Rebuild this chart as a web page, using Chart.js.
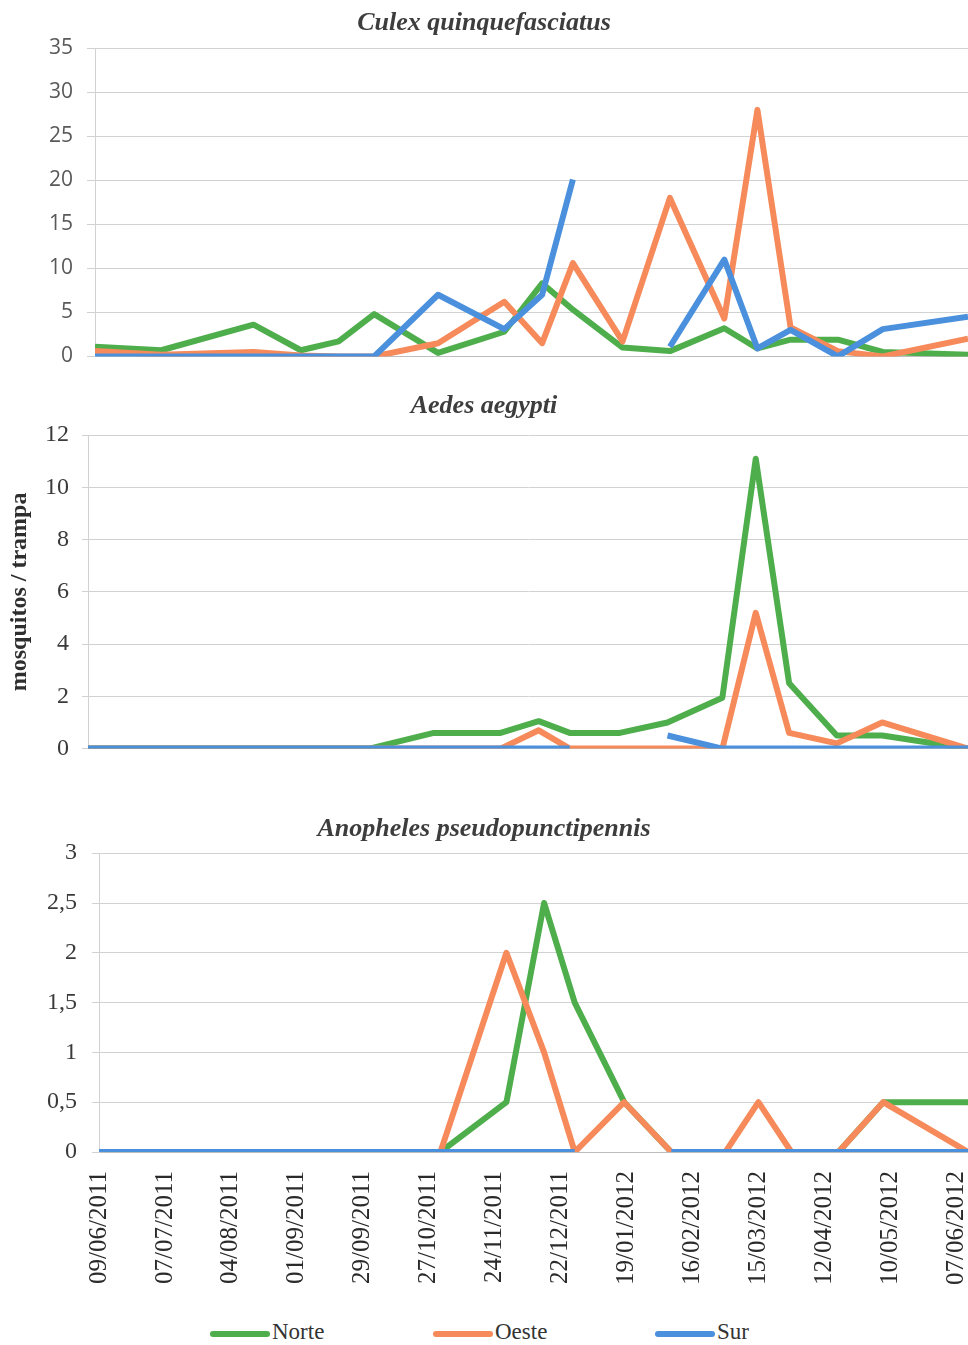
<!DOCTYPE html>
<html>
<head>
<meta charset="utf-8">
<script src="https://cdn.jsdelivr.net/npm/chart.js@4.4.1/dist/chart.umd.min.js"></script>
<style>
body { margin: 0; background: #fff; width: 968px; height: 1345px; position: relative; overflow: hidden; }
canvas { position: absolute; left: 0; }
.ley { position: absolute; top: 1317px; height: 30px; font: 23px 'Liberation Serif', serif; color: #333; line-height: 30px; white-space: nowrap; }
.ley i { display: inline-block; width: 60px; height: 6px; vertical-align: middle; margin-right: 2px; border-radius: 3px; }
</style>
</head>
<body>
<canvas id="culex" width="968" height="383" style="top:0px"></canvas>
<canvas id="aedes" width="968" height="401" style="top:375px"></canvas>
<canvas id="anopheles" width="968" height="510" style="top:795px"></canvas>
<div id="leyenda"></div>
<script>
// fechas de muestreo
const fechas = ['09/06/2011', '07/07/2011', '15/08/2011', '04/09/2011', '20/09/2011', '05/10/2011',
    '01/11/2011', '29/11/2011', '15/12/2011', '28/12/2011', '18/01/2012', '07/02/2012',
    '01/03/2012', '15/03/2012', '29/03/2012', '18/04/2012', '07/05/2012', '12/06/2012'];

const etiquetasX = ['09/06/2011', '07/07/2011', '04/08/2011', '01/09/2011', '29/09/2011', '27/10/2011',
    '24/11/2011', '22/12/2011', '19/01/2012', '16/02/2012', '15/03/2012', '12/04/2012',
    '10/05/2012', '07/06/2012'];

// Culex quinquefasciatus
const culexNorte = [1.1, 0.7, 3.6, 0.7, 1.7, 4.8, 0.4, 2.8, 8.3, 5.3, 1.0, 0.6, 3.2, 0.9, 1.9, 1.9, 0.5, 0.2];
const culexOeste = [0.6, 0.2, 0.5, 0.1, 0, 0, 1.5, 6.2, 1.5, 10.6, 1.7, 18.0, 4.3, 28.0, 3.3, 0.6, 0, 2.0];
const culexSur = [0, 0, 0, 0, 0, 0, 7.0, 3.1, 7.0, 20.1, null, 1.1, 11.0, 0.9, 3.0, 0, 3.1, 4.5];

// Aedes aegypti
const aedesNorte = [0, 0, 0, 0, 0, 0, 0.6, 0.6, 1.05, 0.6, 0.6, 1.0, 1.95, 11.1, 2.5, 0.5, 0.5, 0];
const aedesOeste = [0, 0, 0, 0, 0, 0, 0, 0, 0.7, 0, 0, 0, 0, 5.2, 0.6, 0.2, 1.0, 0];
const aedesSur = [0, 0, 0, 0, 0, 0, 0, 0, 0, 0, null, 0.5, 0, 0, 0, 0, 0, 0];

// Anopheles pseudopunctipennis
const anophelesNorte = [0, 0, 0, 0, 0, 0, 0, 0.5, 2.5, 1.5, 0.5, 0, 0, 0, 0, 0, 0.5, 0.5];
const anophelesOeste = [0, 0, 0, 0, 0, 0, 0, 2.0, 1.0, 0, 0.5, 0, 0, 0.5, 0, 0, 0.5, 0];
const anophelesSur = [0, 0, 0, 0, 0, 0, 0, 0, 0, 0, null, 0, 0, 0, 0, 0, 0, 0];

const nombres = ['Norte', 'Oeste', 'Sur'];
const colores = ['#4fae4c', '#f68a5a', '#4a90dc'];

const diaCero = Date.UTC(2011, 5, 9);
function aDia(f) {
    const [d, m, a] = f.split('/').map(Number);
    return Math.round((Date.UTC(a, m - 1, d) - diaCero) / 86400000);
}
const dias = fechas.map(aDia);
const ticksX = etiquetasX.map(aDia);

function serie(i, valores) {
    return {
        label: nombres[i],
        data: valores.map((v, k) => ({ x: dias[k], y: v })),
        borderColor: colores[i],
        backgroundColor: colores[i],
        borderWidth: 6,
        borderJoinStyle: 'round',
        pointRadius: 0,
        tension: 0,
        spanGaps: false,
        order: 3 - i
    };
}

function crearGrafico(id, titulo, valores, cfg) {
    const ctx = document.getElementById(id).getContext('2d');
    return new Chart(ctx, {
        type: 'line',
        data: { datasets: valores.map((v, i) => serie(i, v)) },
        options: {
            responsive: false,
            animation: false,
            layout: { padding: 0 },
            plugins: {
                legend: { display: false },
                tooltip: { enabled: false },
                title: {
                    display: true,
                    text: titulo,
                    color: '#3d3d3d',
                    font: { family: 'Liberation Serif', size: 26, weight: 'bold', style: 'italic' },
                    padding: cfg.tituloPad
                }
            },
            scales: {
                x: {
                    type: 'linear',
                    min: 0,
                    max: dias[dias.length - 1],
                    afterBuildTicks: (eje) => { eje.ticks = ticksX.map(v => ({ value: v })); },
                    ticks: {
                        display: cfg.etiquetas,
                        autoSkip: false,
                        minRotation: 90,
                        maxRotation: 90,
                        padding: 11,
                        color: '#2a2a2a',
                        font: { family: 'Liberation Serif', size: 25 },
                        callback: (v, i) => etiquetasX[i]
                    },
                    grid: { display: false },
                    border: { color: '#bdbdbd', width: 1 },
                    afterFit: (eje) => { eje.height = cfg.altoX; eje.paddingLeft = 0; eje.paddingRight = 0; }
                },
                y: {
                    min: 0,
                    max: cfg.maxY,
                    ticks: {
                        stepSize: cfg.paso,
                        padding: cfg.padY,
                        color: cfg.colorY,
                        font: cfg.fuenteY,
                        callback: (v) => String(v).replace('.', ',')
                    },
                    grid: { color: '#d2d2d2', lineWidth: 1, tickLength: cfg.marca },
                    border: { color: '#d2d2d2' },
                    title: cfg.tituloY,
                    afterFit: (eje) => { eje.width = cfg.izq; }
                }
            }
        }
    });
}

crearGrafico('culex', 'Culex quinquefasciatus', [culexNorte, culexOeste, culexSur], {
    tituloPad: { top: 8, bottom: 9 },
    etiquetas: false, altoX: 13,
    maxY: 35, paso: 5, padY: 14, marca: 8, izq: 95,
    colorY: '#595959', fuenteY: { family: 'Open Sans', size: 21 },
    tituloY: { display: false }
});

crearGrafico('aedes', 'Aedes aegypti', [aedesNorte, aedesOeste, aedesSur], {
    tituloPad: { top: 16, bottom: 13 },
    etiquetas: false, altoX: 12,
    maxY: 12, paso: 2, padY: 13, marca: 6, izq: 88,
    colorY: '#3a3a3a', fuenteY: { family: 'Liberation Serif', size: 24 },
    tituloY: {
        display: true,
        text: 'mosquitos / trampa',
        color: '#2e2e2e',
        font: { family: 'Liberation Serif', size: 24, weight: 'bold' },
        padding: { top: 5, bottom: 0 }
    }
});

crearGrafico('anopheles', 'Anopheles pseudopunctipennis', [anophelesNorte, anophelesOeste, anophelesSur], {
    tituloPad: { top: 19, bottom: 8 },
    etiquetas: true, altoX: 153,
    maxY: 3, paso: 0.5, padY: 15, marca: 7, izq: 99,
    colorY: '#3a3a3a', fuenteY: { family: 'Liberation Serif', size: 24 },
    tituloY: { display: false }
});

// leyenda común
const posLeyenda = [210, 433, 655];
const leyenda = document.getElementById('leyenda');
nombres.forEach((n, i) => {
    const d = document.createElement('div');
    d.className = 'ley';
    d.style.left = posLeyenda[i] + 'px';
    d.innerHTML = '<i style="background:' + colores[i] + '"></i>' + n;
    leyenda.appendChild(d);
});
</script>
</body>
</html>
